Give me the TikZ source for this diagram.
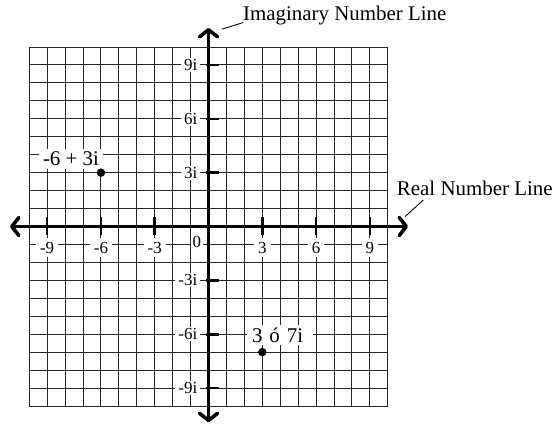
\documentclass[tikz,border=0pt]{standalone}
\usepackage{fontspec}
\setmainfont{Liberation Serif}
\usetikzlibrary{arrows.meta,positioning,calc}
\tikzset{
  gridline/.style={line width=1bp,black!85},
  axisline/.style={line width=3.6bp,
    {Straight Barb[length=7bp,width=18bp,line cap=round,line join=round]}-{Straight Barb[length=7bp,width=18bp,line cap=round,line join=round]}},
  tickmark/.style={line width=2.6bp},
  xlab/.style={fill=white,inner xsep=4bp,inner ysep=3.5bp,font=\fontsize{17}{19}\selectfont},
  ylab/.style={xlab,anchor=east,inner xsep=3bp,inner ysep=1.2bp},
  ptlab/.style={fill=white,inner xsep=4bp,inner ysep=3bp,font=\fontsize{21}{24}\selectfont},
  callout/.style={inner sep=0pt,font=\fontsize{21}{24}\selectfont},
  leader/.style={line width=0.9bp},
  dot/.style={circle,fill=black,inner sep=0pt,minimum size=8.5bp},
}
\begin{document}
\begin{tikzpicture}[x=17.93bp,y=17.95bp]
  \useasboundingbox (-11.63,-10.95) rectangle (19.27,12.62);
  \draw[gridline,step=1] (-10,-10) grid (10,10);
  \foreach \k in {-9,-6,-3,3,6,9}
    \node[xlab] (x\k) at (\k,-1.17) {\k};
  \node[xlab,inner xsep=1.5bp] (x0) at (-0.65,-0.88) {0};
  \foreach \k in {-9,-6,-3,3,6,9}
    \node[ylab] (y\k) at (-0.45,\k) {\k i};
  \node[ptlab] (pa) at (-7.67,3.76) {-6 + 3i};
  \node[ptlab,text width=56bp,align=left,inner xsep=5bp] (pb) at (3.99,-6.04) {3 ó 7i};
  \coordinate (west) at (-11.07,0);
  \coordinate (east) at (11.13,0);
  \coordinate (north) at (0,11.06);
  \coordinate (south) at (0,-10.9);
  \draw[axisline] (west) -- (east);
  \draw[axisline] (south) -- (north);
  \foreach \k in {-9,-6,-3,3,6,9} {
    \draw[tickmark] (\k,-0.45) -- (\k,0.55);
    \draw[tickmark] (-0.15,\k) -- (0.6,\k);
  }
  \node[dot] (a) at (-6,3) {};
  \node[dot] (b) at (3,-7) {};
  \node[callout,anchor=base west] (imag) at (1.92,11.47) {Imaginary Number Line};
  \node[callout,anchor=base west] (real) at (10.5,1.755) {Real Number Line};
  \coordinate (imagfoot) at (0.74,10.99);
  \coordinate (realfoot) at (10.96,0.55);
  \draw[leader] (imagfoot) -- ($(imag.base west)+(0,-2bp)$);
  \draw[leader] (realfoot) -- ($(real.base west)+(26.6bp,-5bp)$);
\end{tikzpicture}
\end{document}
